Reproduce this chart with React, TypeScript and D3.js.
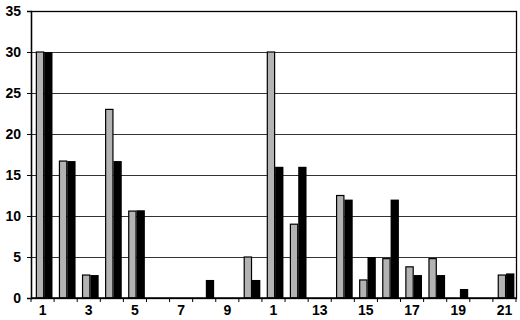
import React, { useEffect, useRef } from "react"
import * as d3 from "d3"

const categories = ["1","2","3","4","5","6","7","8","9","10","11","12","13","14","15","16","17","18","19","20","21"]
// label shown under every other category (the 11th is printed as "1" in the original)
const tickLabels = ["1","","3","","5","","7","","9","","1","","13","","15","","17","","19","","21"]
const greyValues = [30, 16.7, 2.8, 23, 10.6, 0, 0, 0, 0, 5, 30, 9, 0, 12.5, 2.2, 4.8, 3.8, 4.8, 0, 0, 2.8]
const blackValues = [30, 16.7, 2.8, 16.7, 10.7, 0, 0, 2.2, 0, 2.2, 16, 16, 0, 12, 5, 12, 2.8, 2.8, 1.1, 0, 3]
const yTicks = [0, 5, 10, 15, 20, 25, 30, 35]

const W = 520, H = 320
const margin = { top: 11, right: 4, bottom: 22, left: 31 }

export default function App() {
  const ref = useRef<SVGSVGElement>(null)

  useEffect(() => {
    const svg = d3.select(ref.current)
    svg.selectAll("*").remove()
    const width = W - margin.left - margin.right
    const height = H - margin.top - margin.bottom

    const x = d3.scaleBand().domain(categories).range([0, width]).paddingInner(0.28).paddingOuter(0.14).align(0.75)
    const series = ["grey", "black"]
    const x1 = d3.scaleBand().domain(series).range([0, x.bandwidth()])
    const y = d3.scaleLinear().domain([0, 35]).range([height, 0])

    const g = svg.append("g").attr("transform", `translate(${margin.left},${margin.top})`)

    // gridlines
    g.selectAll("line.grid").data(yTicks.filter(t => t > 0 && t < 35)).enter().append("line")
      .attr("x1", 0).attr("x2", width)
      .attr("y1", d => Math.round(y(d)) + 0.5).attr("y2", d => Math.round(y(d)) + 0.5)
      .attr("stroke", "#333").attr("stroke-width", 1)

    // frame
    g.append("rect").attr("x", 0.5).attr("y", 0.5).attr("width", width).attr("height", height)
      .attr("fill", "none").attr("stroke", "#000").attr("stroke-width", 1.3)

    const groups = g.selectAll("g.cat").data(categories).enter().append("g")
      .attr("transform", d => `translate(${x(d)},0)`)

    groups.append("rect")
      .attr("x", x1("grey")! + 0.5)
      .attr("y", (d, i) => y(greyValues[i]))
      .attr("width", x1.bandwidth() - 1)
      .attr("height", (d, i) => height - y(greyValues[i]))
      .attr("fill", "#b3b3b3").attr("stroke", "#000").attr("stroke-width", 1.2)
      .style("display", (d, i) => greyValues[i] > 0 ? null : "none")

    groups.append("rect")
      .attr("x", x1("black")!)
      .attr("y", (d, i) => y(blackValues[i]))
      .attr("width", x1.bandwidth())
      .attr("height", (d, i) => height - y(blackValues[i]))
      .attr("fill", "#000")

    // y axis
    const yAxis = g.append("g").call(d3.axisLeft(y).tickValues(yTicks).tickSize(4).tickPadding(6))
    yAxis.select(".domain").attr("stroke-width", 1.3)

    // x axis with ticks at category boundaries
    const xAxis = g.append("g").attr("transform", `translate(0,${height})`)
    xAxis.append("line").attr("x1", 0).attr("x2", width).attr("stroke", "#000").attr("stroke-width", 1.3)
    const step = width / categories.length
    xAxis.selectAll("line.tk").data(d3.range(categories.length + 1)).enter().append("line")
      .attr("x1", d => d * step).attr("x2", d => d * step).attr("y1", 0).attr("y2", 4)
      .attr("stroke", "#000")
    xAxis.selectAll("text").data(categories).enter().append("text")
      .attr("x", (d, i) => (i + 0.5) * step)
      .attr("y", 17)
      .attr("text-anchor", "middle")
      .text((d, i) => tickLabels[i])

    svg.selectAll("text")
      .attr("font-family", "Liberation Sans, Arial, sans-serif")
      .attr("font-weight", "bold")
      .attr("font-size", 14)
      .attr("fill", "#000")
  }, [])

  return (
    <svg ref={ref} width={W} height={H}
      style={{ position: "absolute", left: 0, top: 0, background: "#fff" }} />
  )
}
